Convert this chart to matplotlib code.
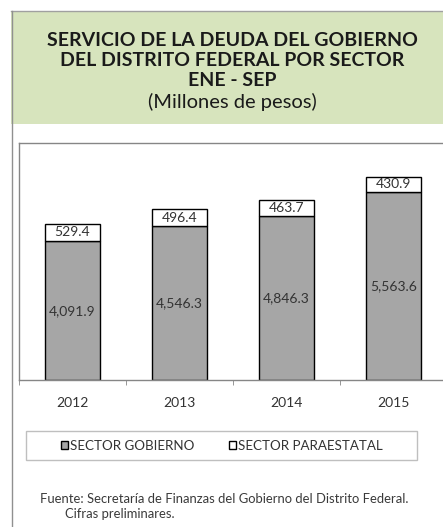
import matplotlib.pyplot as plt
from matplotlib.patches import Rectangle, Patch
from matplotlib.lines import Line2D

# ── Data ──────────────────────────────────────────────────
years = ["2012", "2013", "2014", "2015"]
gobierno = [4091.9, 4546.3, 4846.3, 5563.6]
paraestatal = [529.4, 496.4, 463.7, 430.9]

# ── Figure ────────────────────────────────────────────────
W, H = 443, 527
fig = plt.figure(figsize=(W / 100, H / 100), dpi=100)
plt.rcParams["font.family"] = ["Lato", "DejaVu Sans"]

def fx(px):
    return px / W

def fy(py):
    return 1 - py / H

# header box
fig.patches.append(Rectangle((fx(11), fy(124)), 1, fy(11) - fy(124),
                             transform=fig.transFigure, facecolor="#D7E4BD",
                             edgecolor="none", zorder=0))
fig.add_artist(Line2D([fx(11), 1], [fy(11), fy(11)], transform=fig.transFigure,
                      color="#A0A0A0", linewidth=1))
fig.add_artist(Line2D([fx(11.5), fx(11.5)], [fy(11), 0], transform=fig.transFigure,
                      color="#909090", linewidth=1))

title_lines = [
    "SERVICIO DE LA DEUDA DEL GOBIERNO",
    "DEL DISTRITO FEDERAL POR SECTOR",
    "ENE - SEP",
]
for i, line in enumerate(title_lines):
    fig.text(fx(232), fy(41 + i * 20), line, ha="center", va="center",
             fontsize=14, fontweight="bold", color="#1A1A1A")
fig.text(fx(232), fy(102), "(Millones de pesos)", ha="center", va="center",
         fontsize=14.5, color="#1A1A1A")

# ── Plot ──────────────────────────────────────────────────
ax = fig.add_axes([fx(19), fy(380), fx(447) - fx(19), fy(143) - fy(380)])
x = range(len(years))
ax.bar(x, gobierno, width=0.515, color="#A6A6A6", edgecolor="black",
       linewidth=1, label="SECTOR GOBIERNO")
ax.bar(x, paraestatal, width=0.515, bottom=gobierno, color="white",
       edgecolor="black", linewidth=1, label="SECTOR PARAESTATAL")

for i in x:
    ax.text(i, gobierno[i] / 2, f"{gobierno[i]:,.1f}", ha="center", va="center",
            fontsize=10, color="#333333")
    ax.text(i, gobierno[i] + paraestatal[i] / 2, f"{paraestatal[i]:,.1f}",
            ha="center", va="center", fontsize=10, color="#333333")

ax.set_xlim(-0.5, 3.5)
ax.set_ylim(0, 7000)
ax.set_yticks([])
ax.set_xticks(list(x))
ax.set_xticklabels(years, fontsize=10, color="#333333")
ax.tick_params(axis="x", which="major", length=0, pad=12)
ax.set_xticks([-0.5, 0.5, 1.5, 2.5, 3.5], minor=True)
ax.tick_params(axis="x", which="minor", length=3.5, color="#868686")

for s in ["left", "top", "right", "bottom"]:
    ax.spines[s].set_color("#868686")
    ax.spines[s].set_linewidth(1)

# ── Legend ────────────────────────────────────────────────
fig.patches.append(Rectangle((fx(26), fy(460)), fx(417) - fx(26), fy(431) - fy(460),
                             transform=fig.transFigure, facecolor="white",
                             edgecolor="#BFBFBF", linewidth=1))
handles = [Patch(facecolor="#A6A6A6", edgecolor="black", linewidth=1),
           Patch(facecolor="white", edgecolor="black", linewidth=1)]
leg = fig.legend(handles, ["SECTOR GOBIERNO", "SECTOR PARAESTATAL"], ncol=2,
                 loc="center", bbox_to_anchor=(fx(222), fy(445.5)),
                 fontsize=9.6, frameon=False,
                 handlelength=0.55, handleheight=0.55, handletextpad=0.15,
                 columnspacing=2.6)
for t in leg.get_texts():
    t.set_color("#333333")

# ── Footnote ──────────────────────────────────────────────
fig.text(fx(40), fy(499), "Fuente: Secretaría de Finanzas del Gobierno del Distrito Federal.",
         ha="left", va="center", fontsize=9.4, color="#3A3A3A")
fig.text(fx(65), fy(514), "Cifras preliminares.", ha="left", va="center",
         fontsize=9.4, color="#3A3A3A")

fig.savefig("out.png", dpi=100, facecolor="white")
